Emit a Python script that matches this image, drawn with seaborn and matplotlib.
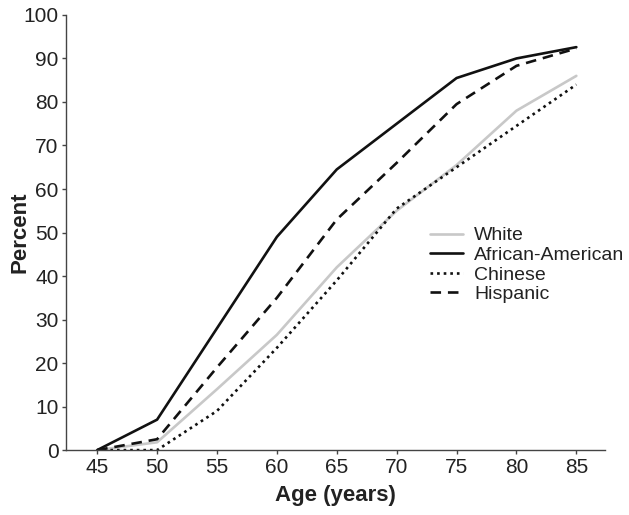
import matplotlib
matplotlib.use("Agg")
import matplotlib.pyplot as plt
import seaborn as sns
import pandas as pd

# Data
ages = [45, 50, 55, 60, 65, 70, 75, 80, 85]
white = [0, 1.8, 14, 26.5, 42, 55, 65.5, 78, 86]
african_american = [0, 7, 28, 49, 64.5, 75, 85.5, 90, 92.6]
chinese = [0, 0, 9, 23.5, 39, 55.5, 65, 74.5, 84]
hispanic = [0, 2.5, 19, 35, 53, 66, 79.5, 88.3, 92.3]
groups = ["White", "African-American", "Chinese", "Hispanic"]

rows = []
for name, vals in zip(groups, [white, african_american, chinese, hispanic]):
    for a, v in zip(ages, vals):
        rows.append({"age": a, "percent": v, "group": name})
df = pd.DataFrame(rows)

sns.set_style("ticks")
plt.rcParams["font.family"] = ["Liberation Sans", "DejaVu Sans"]

fig = plt.figure(figsize=(6.29, 5.15), dpi=100)
ax = fig.add_axes([0.105, 0.126, 0.857, 0.845])

palette = {"White": "#c8c8c8", "African-American": "#111111",
           "Chinese": "#111111", "Hispanic": "#111111"}
dashes = {"White": "", "African-American": "", "Chinese": (1, 1.5), "Hispanic": (4, 2.6)}
sns.lineplot(data=df, x="age", y="percent", hue="group", style="group",
             palette=palette, dashes=dashes, hue_order=groups, style_order=groups,
             linewidth=1.9, ax=ax)

ax.set_xlim(42.4, 87.4)
ax.set_ylim(0, 100)
ax.set_xticks(ages)
ax.set_yticks(range(0, 101, 10))
ax.tick_params(labelsize=15, length=3, width=1, pad=2.5,
               color="#444444", labelcolor="#222222")
for s in ["left", "bottom"]:
    ax.spines[s].set_color("#444444")
    ax.spines[s].set_linewidth(1)
sns.despine(ax=ax)

ax.set_xlabel("Age (years)", fontsize=16, fontweight="bold", color="#222222", labelpad=6)
ax.set_ylabel("Percent", fontsize=16, fontweight="bold", color="#222222")
ax.yaxis.set_label_coords(-0.066, 0.5)

leg = ax.legend(loc="upper left", bbox_to_anchor=(0.66, 0.531), frameon=False,
                fontsize=14, handlelength=1.7, handletextpad=0.6,
                labelspacing=0.1, borderaxespad=0)
for t in leg.get_texts():
    t.set_color("#222222")

fig.savefig("out.png", dpi=100)
